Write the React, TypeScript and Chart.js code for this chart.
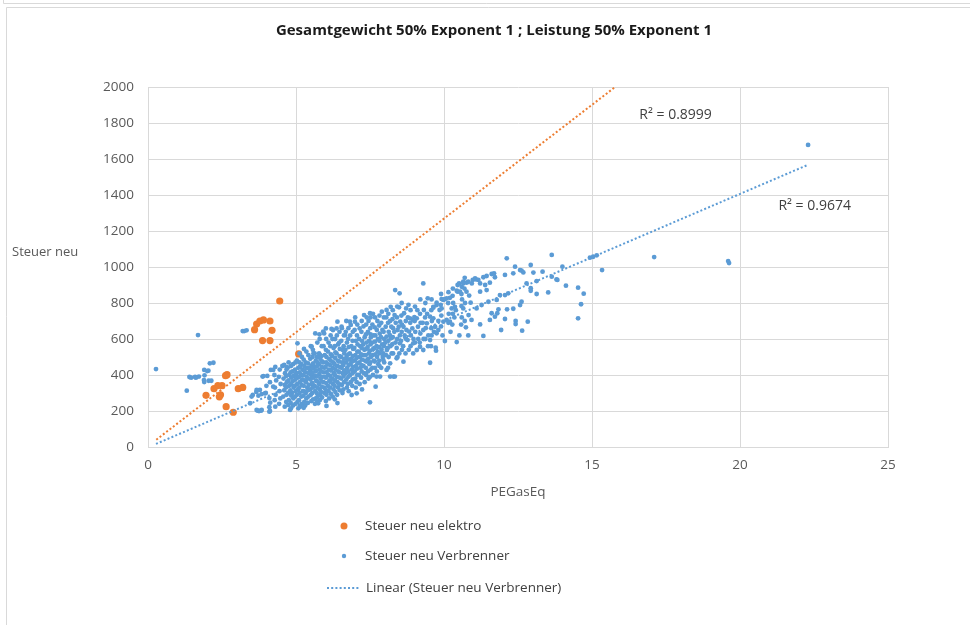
import { useEffect, useRef } from 'react';
import { Chart, registerables } from 'chart.js';

Chart.register(...registerables);

const TITLE = 'Gesamtgewicht 50% Exponent 1 ; Leistung 50% Exponent 1';
const X_TITLE = 'PEGasEq';
const Y_TITLE = 'Steuer neu';
const LEGEND_ELEKTRO = 'Steuer neu elektro';
const LEGEND_VERBRENNER = 'Steuer neu Verbrenner';
const LEGEND_TREND = 'Linear (Steuer neu Verbrenner)';

const X_MIN = 0;
const X_MAX = 25;
const X_STEP = 5;
const Y_MIN = 0;
const Y_MAX = 2000;
const Y_STEP = 200;

type P = [number, number];

const elektro: P[] = [
  [4.45, 811], [3.67, 683], [3.78, 700], [3.9, 706], [4.12, 700], [3.6, 652], [4.19, 648],
  [3.87, 591], [4.12, 591], [5.09, 517], [2.67, 402], [2.62, 396], [2.5, 341], [2.36, 341],
  [2.23, 324], [2.41, 279], [2.45, 290], [1.96, 287], [3.05, 324], [3.2, 331], [2.64, 224], [2.88, 193],
];

const verbrennerOutliers: P[] = [
  [0.27, 433], [1.69, 622], [3.2, 644], [3.25, 644], [3.33, 648],
  [1.31, 313], [1.4, 389], [1.59, 389], [1.72, 391], [1.46, 385], [1.62, 385],
  [2.09, 465], [2.21, 468], [2.04, 424], [2.0, 422], [1.9, 428], [1.91, 398],
  [1.9, 361], [2.05, 368], [2.14, 368], [1.89, 372],
  [3.54, 289], [3.66, 306], [3.78, 317], [3.87, 391], [3.73, 285], [3.84, 294],
  [3.7, 202], [3.82, 202], [3.67, 206], [3.84, 206], [3.75, 200], [3.45, 243], [3.5, 280], [3.67, 317], [3.95, 298], [4.23, 335],
  [17.1, 1055], [19.6, 1033], [19.63, 1022], [22.3, 1678],
];

const verbrennerLow: P[] = [
  [4.0, 340], [4.03, 395], [3.98, 300], [3.9, 394],
  [4.15, 428], [4.12, 360], [4.1, 272], [4.13, 246], [4.1, 221], [4.12, 200], [4.1, 196], [4.23, 428],
  [4.3, 445], [4.27, 400], [4.33, 370], [4.29, 330], [4.31, 290], [4.28, 260], [4.3, 224],
  [4.45, 430], [4.42, 390], [4.48, 350], [4.44, 310], [4.47, 270], [4.43, 240], [4.54, 450],
  [4.6, 456], [4.63, 410], [4.58, 380], [4.62, 345], [4.6, 315], [4.57, 280], [4.62, 224], [4.69, 443],
  [4.75, 470], [4.72, 440], [4.78, 400], [4.74, 370], [4.77, 340], [4.73, 300], [4.76, 260], [4.8, 206], [4.74, 233],
  [4.9, 460], [4.88, 420], [4.93, 395], [4.89, 365], [4.92, 330], [4.87, 300], [4.91, 270], [4.9, 230],
];

const verbrennerCore5: P[] = [
  [5.05, 576], [5.03, 480], [5.08, 440], [5.02, 410], [5.06, 385], [5.04, 350], [5.07, 320], [5.03, 290], [5.05, 250], [5.08, 215],
  [5.2, 500], [5.18, 460], [5.22, 430], [5.17, 400], [5.21, 375], [5.19, 345], [5.23, 310], [5.18, 280], [5.2, 240], [5.14, 224],
  [5.35, 530], [5.33, 470], [5.37, 440], [5.32, 415], [5.36, 390], [5.34, 360], [5.38, 330], [5.33, 300], [5.35, 270], [5.31, 230],
  [5.5, 560], [5.48, 490], [5.52, 450], [5.47, 425], [5.51, 400], [5.49, 375], [5.53, 350], [5.48, 320], [5.5, 290], [5.52, 255], [5.53, 557],
  [5.65, 631], [5.63, 520], [5.67, 480], [5.62, 445], [5.66, 420], [5.64, 395], [5.68, 370], [5.63, 340], [5.65, 310], [5.67, 270], [5.64, 240], [5.59, 520],
  [5.8, 600], [5.78, 520], [5.82, 490], [5.77, 460], [5.81, 430], [5.79, 405], [5.83, 380], [5.78, 350], [5.8, 320], [5.82, 290], [5.81, 261], [5.75, 243], [5.79, 626], [5.81, 511],
  [5.95, 631], [5.93, 560], [5.97, 510], [5.92, 470], [5.96, 440], [5.94, 415], [5.98, 390], [5.93, 360], [5.95, 330], [5.97, 300], [6.03, 228], [5.92, 641],
];

const verbrennerCore6: P[] = [
  [6.1, 580], [6.08, 530], [6.12, 490], [6.07, 460], [6.11, 430], [6.09, 400], [6.13, 370], [6.08, 340], [6.1, 310], [6.12, 270], [6.01, 659],
  [6.25, 650], [6.23, 600], [6.27, 550], [6.22, 505], [6.26, 470], [6.24, 440], [6.28, 410], [6.23, 380], [6.25, 350], [6.27, 320], [6.24, 280], [6.2, 656],
  [6.4, 696], [6.38, 620], [6.42, 570], [6.37, 520], [6.41, 480], [6.39, 450], [6.43, 420], [6.38, 390], [6.4, 360], [6.42, 330], [6.39, 290], [6.4, 244], [6.37, 659],
  [6.55, 660], [6.53, 590], [6.57, 540], [6.52, 500], [6.56, 470], [6.54, 440], [6.58, 410], [6.53, 380], [6.55, 345], [6.57, 300], [6.54, 668],
  [6.7, 700], [6.68, 640], [6.72, 580], [6.67, 540], [6.71, 500], [6.69, 470], [6.73, 440], [6.68, 410], [6.7, 375], [6.72, 330], [6.66, 622],
  [6.85, 678], [6.83, 620], [6.87, 560], [6.82, 520], [6.86, 490], [6.84, 460], [6.88, 430], [6.83, 400], [6.85, 360], [6.88, 289], [6.82, 696],
  [7.0, 720], [6.98, 650], [7.02, 590], [6.97, 550], [7.01, 510], [6.99, 480], [7.03, 450], [6.98, 420], [7.0, 380], [7.02, 330], [7.05, 298], [6.99, 696],
];

const verbrennerCore7: P[] = [
  [7.15, 659], [7.13, 600], [7.17, 560], [7.12, 530], [7.16, 500], [7.14, 470], [7.18, 440], [7.13, 400], [7.15, 350],
  [7.3, 733], [7.28, 670], [7.32, 610], [7.27, 570], [7.31, 540], [7.29, 510], [7.33, 480], [7.28, 450], [7.3, 410], [7.32, 360],
  [7.45, 700], [7.43, 640], [7.47, 590], [7.42, 555], [7.46, 520], [7.44, 490], [7.48, 460], [7.43, 420], [7.45, 380], [7.5, 248], [7.39, 720], [7.5, 743], [7.52, 626],
  [7.6, 740], [7.58, 680], [7.62, 620], [7.57, 580], [7.61, 545], [7.59, 510], [7.63, 480], [7.58, 440], [7.6, 400], [7.69, 335],
  [7.75, 700], [7.73, 650], [7.77, 600], [7.72, 560], [7.76, 530], [7.74, 500], [7.78, 460], [7.73, 420], [7.72, 391],
  [7.9, 752], [7.88, 690], [7.92, 650], [7.87, 610], [7.91, 570], [7.89, 540], [7.93, 500], [7.95, 483], [7.88, 440], [7.84, 391],
];

const verbrennerFillA: P[] = [
  [4.68, 430], [4.67, 395], [4.69, 360], [4.66, 330], [4.68, 290], [4.67, 250],
  [4.83, 450], [4.82, 415], [4.84, 385], [4.83, 350], [4.81, 315], [4.84, 285], [4.82, 245], [4.83, 215],
  [4.98, 470], [4.97, 430], [4.99, 405], [4.98, 375], [4.96, 340], [4.99, 310], [4.97, 280], [4.98, 240],
  [5.12, 520], [5.11, 470], [5.13, 445], [5.12, 415], [5.1, 390], [5.13, 360], [5.11, 330], [5.12, 300], [5.1, 260], [5.13, 230],
  [5.27, 545], [5.26, 485], [5.28, 450], [5.27, 425], [5.25, 400], [5.28, 370], [5.26, 340], [5.27, 310], [5.25, 285], [5.28, 250], [5.26, 218],
  [5.42, 510], [5.41, 465], [5.43, 440], [5.42, 410], [5.4, 380], [5.43, 345], [5.41, 315], [5.42, 280], [5.4, 245],
  [5.57, 540], [5.56, 500], [5.58, 465], [5.57, 435], [5.55, 410], [5.58, 385], [5.56, 355], [5.57, 330], [5.55, 300], [5.58, 265],
  [5.72, 580], [5.71, 500], [5.73, 470], [5.72, 450], [5.7, 425], [5.73, 395], [5.71, 365], [5.72, 330], [5.7, 300], [5.73, 280], [5.71, 250],
  [5.87, 560], [5.86, 505], [5.88, 475], [5.87, 445], [5.85, 420], [5.88, 390], [5.86, 365], [5.87, 335], [5.85, 305], [5.88, 275],
  [6.02, 600], [6.01, 540], [6.03, 500], [6.02, 470], [6.0, 445], [6.03, 415], [6.01, 385], [6.02, 355], [6.0, 320], [6.03, 290], [6.01, 255],
  [6.17, 620], [6.16, 560], [6.18, 515], [6.17, 480], [6.15, 455], [6.18, 425], [6.16, 395], [6.17, 360], [6.15, 330], [6.18, 295],
  [6.32, 600], [6.31, 560], [6.33, 525], [6.32, 495], [6.3, 460], [6.33, 430], [6.31, 400], [6.32, 370], [6.3, 340], [6.33, 305], [6.31, 265],
];

const verbrennerFillB: P[] = [
  [6.47, 640], [6.46, 580], [6.48, 545], [6.47, 505], [6.45, 475], [6.48, 445], [6.46, 415], [6.47, 385], [6.45, 350], [6.48, 315],
  [6.62, 620], [6.61, 560], [6.63, 520], [6.62, 490], [6.6, 455], [6.63, 425], [6.61, 395], [6.62, 360], [6.6, 320],
  [6.77, 660], [6.76, 600], [6.78, 555], [6.77, 515], [6.75, 485], [6.78, 455], [6.76, 420], [6.77, 390], [6.75, 350], [6.78, 310],
  [6.92, 640], [6.91, 590], [6.93, 545], [6.92, 505], [6.9, 475], [6.93, 445], [6.91, 410], [6.92, 375], [6.9, 340],
  [7.07, 680], [7.06, 620], [7.08, 570], [7.07, 530], [7.05, 495], [7.08, 465], [7.06, 435], [7.07, 400], [7.05, 360],
  [7.22, 700], [7.21, 640], [7.23, 590], [7.22, 550], [7.2, 515], [7.23, 485], [7.21, 455], [7.22, 420], [7.2, 385], [7.23, 320],
  [7.37, 680], [7.36, 625], [7.38, 580], [7.37, 545], [7.35, 510], [7.38, 475], [7.36, 440], [7.37, 400],
  [7.52, 720], [7.51, 660], [7.53, 610], [7.52, 570], [7.5, 535], [7.53, 500], [7.51, 470], [7.52, 430], [7.5, 390],
  [7.67, 720], [7.66, 665], [7.68, 620], [7.67, 585], [7.65, 550], [7.68, 515], [7.66, 475], [7.67, 440],
  [7.82, 730], [7.81, 675], [7.83, 630], [7.82, 590], [7.8, 555], [7.83, 520], [7.81, 480], [7.82, 450],
  [7.97, 720], [7.96, 640], [7.98, 600], [7.97, 560], [7.95, 520], [7.98, 470],
  [8.12, 740], [8.11, 690], [8.13, 640], [8.12, 590], [8.1, 550], [8.13, 500], [8.11, 440],
  [8.27, 760], [8.26, 710], [8.28, 660], [8.27, 610], [8.25, 570], [8.28, 520],
  [8.42, 780], [8.41, 720], [8.43, 650], [8.42, 600], [8.4, 550], [8.43, 500],
  [8.57, 800], [8.56, 730], [8.58, 680], [8.57, 640], [8.55, 590], [8.58, 540],
  [8.72, 770], [8.71, 700], [8.73, 650], [8.72, 600], [8.7, 520],
  [8.87, 760], [8.86, 690], [8.88, 620], [8.87, 560],
  [9.02, 780], [9.01, 700], [9.03, 640], [9.02, 580],
  [9.2, 820], [9.19, 740], [9.21, 690], [9.2, 630], [9.18, 580],
  [9.37, 800], [9.36, 720], [9.38, 660], [9.37, 600],
  [9.58, 820], [9.57, 760], [9.59, 700], [9.58, 620], [9.56, 560],
  [9.9, 850], [9.89, 790], [9.91, 730], [9.9, 670],
  [10.15, 860], [10.14, 800], [10.16, 740], [10.15, 690],
  [10.3, 880], [10.29, 840], [10.31, 800], [10.3, 740], [10.28, 680],
  [10.6, 890], [10.59, 850], [10.61, 820], [10.6, 720], [10.58, 680],
  [10.7, 940], [10.69, 880], [10.71, 800], [10.7, 700],
];

const verbrennerMid: P[] = [
  [8.05, 720], [8.03, 668], [8.06, 613], [8.02, 580], [8.07, 539], [8.04, 510], [8.06, 428], [8.06, 761],
  [8.2, 779], [8.18, 700], [8.22, 668], [8.17, 622], [8.21, 604], [8.19, 560], [8.23, 520], [8.18, 465], [8.18, 391],
  [8.35, 872], [8.33, 733], [8.37, 690], [8.32, 640], [8.36, 580], [8.4, 493], [8.34, 391], [8.29, 391],
  [8.5, 854], [8.48, 776], [8.52, 696], [8.47, 668], [8.51, 620], [8.51, 576], [8.49, 520],
  [8.65, 743], [8.63, 668], [8.67, 620], [8.62, 560], [8.63, 474],
  [8.8, 790], [8.78, 720], [8.82, 641], [8.77, 594], [8.81, 540], [8.85, 715],
  [8.95, 706], [8.93, 659], [8.97, 600], [8.96, 576], [8.96, 520], [9.0, 722],
  [9.1, 760], [9.08, 715], [9.12, 668], [9.13, 600], [9.08, 539], [9.19, 557],
  [9.3, 909], [9.32, 761], [9.28, 690], [9.3, 650], [9.31, 600], [9.3, 539],
  [9.45, 826], [9.43, 740], [9.42, 687], [9.47, 620], [9.46, 560],
  [9.53, 724], [9.57, 660], [9.53, 594], [9.53, 468],
  [9.64, 779], [9.64, 715], [9.66, 640], [9.64, 774],
  [9.75, 802], [9.7, 668], [9.75, 632], [9.73, 535], [9.72, 552], [9.75, 789],
  [9.85, 761], [9.81, 700], [9.81, 650],
  [9.92, 822], [9.92, 770], [9.98, 696], [9.95, 620], [9.98, 817],
  [10.03, 822], [10.09, 706], [10.03, 589], [10.09, 826],
  [10.2, 829], [10.26, 770], [10.2, 696], [10.22, 640],
];

const verbrennerHigh: P[] = [
  [10.37, 779], [10.35, 720], [10.43, 583],
  [10.46, 900], [10.43, 868], [10.46, 863], [10.4, 760],
  [10.51, 909], [10.54, 863], [10.59, 783], [10.52, 620],
  [10.65, 918], [10.65, 770], [10.65, 909],
  [10.76, 913], [10.76, 863], [10.74, 665],
  [10.82, 918], [10.85, 841], [10.82, 620], [10.83, 733],
  [10.94, 909], [10.97, 928], [10.9, 802], [10.93, 706],
  [11.05, 937], [11.08, 931], [11.1, 770],
  [11.16, 928], [11.22, 909], [11.22, 863], [11.22, 681],
  [11.33, 943], [11.27, 789], [11.33, 617],
  [11.44, 950], [11.44, 872], [11.39, 900],
  [11.55, 913], [11.5, 807], [11.55, 706],
  [11.61, 961], [11.61, 743],
  [11.69, 965], [11.72, 943], [11.78, 817], [11.72, 724],
  [11.89, 844], [11.84, 765], [11.8, 743],
  [11.93, 650],
  [12.06, 956], [12.06, 844], [12.13, 765], [12.06, 711],
  [12.12, 1048], [12.17, 854],
  [12.34, 965], [12.34, 768],
  [12.4, 1002], [12.42, 700], [12.42, 683],
  [12.57, 983], [12.57, 789],
  [12.62, 980], [12.62, 807], [12.64, 646],
  [12.68, 970],
  [12.79, 909], [12.83, 696],
  [12.93, 1011], [12.93, 882], [12.93, 868],
  [13.02, 969],
  [13.13, 922], [13.13, 850],
  [13.33, 974],
  [13.52, 859],
  [13.64, 1067], [13.64, 946], [13.8, 931],
  [13.83, 928],
  [14.0, 1002],
  [14.12, 896],
  [14.53, 885], [14.53, 715],
  [14.63, 793],
  [14.72, 852],
  [14.93, 1052], [15.04, 1057], [15.16, 1065],
  [15.34, 983],
];

// Linear trend lines (slope, intercept, x range)
const trendVerbrenner = { slope: 70.4, intercept: -2, from: 0.27, to: 22.3, r2: 'R² = 0.9674' };
const trendElektro = { slope: 126.4, intercept: 5, from: 0.28, to: 15.78, r2: 'R² = 0.8999' };

const ORANGE = '#ED7D31';
const BLUE = '#5B9BD5';
const GRID = '#D9D9D9';
const TEXT = '#595959';
const FONT = "'Open Sans', sans-serif";

const toPts = (arr: P[]) => arr.map(([x, y]) => ({ x, y }));
const trendPts = (t: { slope: number; intercept: number; from: number; to: number }) => [
  { x: t.from, y: t.slope * t.from + t.intercept },
  { x: t.to, y: t.slope * t.to + t.intercept },
];

const decorPlugin = {
  id: 'decor',
  beforeDraw(chart: any) {
    const { ctx, width, height } = chart;
    ctx.save();
    ctx.fillStyle = '#fff';
    ctx.fillRect(0, 0, width, height);
    ctx.strokeStyle = GRID;
    ctx.lineWidth = 1;
    ctx.beginPath();
    ctx.moveTo(3.5, 0);
    ctx.lineTo(3.5, 3.5);
    ctx.lineTo(width, 3.5);
    ctx.moveTo(6.5, height);
    ctx.lineTo(6.5, 7.5);
    ctx.lineTo(width, 7.5);
    ctx.stroke();
    ctx.restore();
  },
  afterDraw(chart: any) {
    const { ctx, scales } = chart;
    const xs = scales.x;
    const ys = scales.y;
    ctx.save();
    ctx.fillStyle = '#1a1a1a';
    ctx.font = `bold 15px ${FONT}`;
    ctx.textAlign = 'center';
    ctx.textBaseline = 'middle';
    ctx.fillText(TITLE, 494, 31);
    ctx.fillStyle = TEXT;
    ctx.font = `13px ${FONT}`;
    ctx.textAlign = 'left';
    ctx.fillText(Y_TITLE, 12, 252);
    ctx.fillStyle = '#404040';
    ctx.font = `14px ${FONT}`;
    ctx.fillText(trendElektro.r2, xs.getPixelForValue(16.6), ys.getPixelForValue(1844));
    ctx.fillText(trendVerbrenner.r2, xs.getPixelForValue(21.3), ys.getPixelForValue(1339));
    ctx.fillStyle = ORANGE;
    ctx.beginPath();
    ctx.arc(344, 526, 3.5, 0, Math.PI * 2);
    ctx.fill();
    ctx.fillStyle = BLUE;
    ctx.beginPath();
    ctx.arc(344, 556, 2.2, 0, Math.PI * 2);
    ctx.fill();
    ctx.strokeStyle = BLUE;
    ctx.lineWidth = 2;
    ctx.setLineDash([2, 2.2]);
    ctx.beginPath();
    ctx.moveTo(327, 588);
    ctx.lineTo(359, 588);
    ctx.stroke();
    ctx.setLineDash([]);
    ctx.fillStyle = '#404040';
    ctx.font = `13.5px ${FONT}`;
    ctx.fillText(LEGEND_ELEKTRO, 365, 526);
    ctx.fillText(LEGEND_VERBRENNER, 365, 556);
    ctx.fillText(LEGEND_TREND, 366, 588);
    ctx.restore();
  },
};

export default function App() {
  const ref = useRef<HTMLCanvasElement | null>(null);
  useEffect(() => {
    if (!ref.current) return;
    const verbrenner = [
      ...verbrennerOutliers, ...verbrennerLow, ...verbrennerCore5, ...verbrennerCore6,
      ...verbrennerCore7, ...verbrennerFillA, ...verbrennerFillB, ...verbrennerMid, ...verbrennerHigh,
    ];
    const chart = new Chart(ref.current, {
      type: 'scatter',
      data: {
        datasets: [
          {
            label: 'Linear (Steuer neu elektro)',
            data: trendPts(trendElektro),
            showLine: true,
            pointRadius: 0,
            borderColor: ORANGE,
            borderWidth: 2,
            borderDash: [2, 2.2],
            order: 0,
          } as any,
          {
            label: LEGEND_TREND,
            data: trendPts(trendVerbrenner),
            showLine: true,
            pointRadius: 0,
            borderColor: BLUE,
            borderWidth: 2,
            borderDash: [2, 2.2],
            order: 1,
          },
          {
            label: LEGEND_VERBRENNER,
            data: toPts(verbrenner),
            pointRadius: 2.4,
            pointBorderWidth: 0,
            backgroundColor: BLUE,
            borderColor: BLUE,
            order: 2,
          },
          {
            label: LEGEND_ELEKTRO,
            data: toPts(elektro),
            pointRadius: 3.6,
            pointBorderWidth: 0,
            backgroundColor: ORANGE,
            borderColor: ORANGE,
            order: 3,
          },
        ],
      },
      options: {
        animation: false,
        responsive: false,
        events: [],
        layout: { padding: { left: 0, right: 82, top: 87, bottom: 121 } },
        plugins: { legend: { display: false }, title: { display: false }, tooltip: { enabled: false } },
        scales: {
          x: {
            type: 'linear',
            min: X_MIN,
            max: X_MAX,
            ticks: { stepSize: X_STEP, padding: 10, color: TEXT, font: { family: FONT, size: 13.5 }, callback: (v: any) => String(v) },
            grid: { color: GRID, drawTicks: false },
            border: { color: GRID },
            title: { display: true, text: X_TITLE, color: TEXT, font: { family: FONT, size: 13.5 }, padding: { top: 0, bottom: 4 } },
            afterFit: (s: any) => { s.height = 57; },
          },
          y: {
            type: 'linear',
            min: Y_MIN,
            max: Y_MAX,
            ticks: { stepSize: Y_STEP, padding: 14, color: TEXT, font: { family: FONT, size: 13.5 }, callback: (v: any) => String(v) },
            grid: { color: GRID, drawTicks: false },
            border: { color: GRID },
            afterFit: (s: any) => { s.width = 148; },
          },
        },
      },
      plugins: [decorPlugin],
    });
    return () => chart.destroy();
  }, []);
  return (
    <div style={{ position: 'fixed', left: 0, top: 0, width: 970, height: 625, background: '#fff' }}>
      <canvas ref={ref} width={970} height={625} />
    </div>
  );
}
